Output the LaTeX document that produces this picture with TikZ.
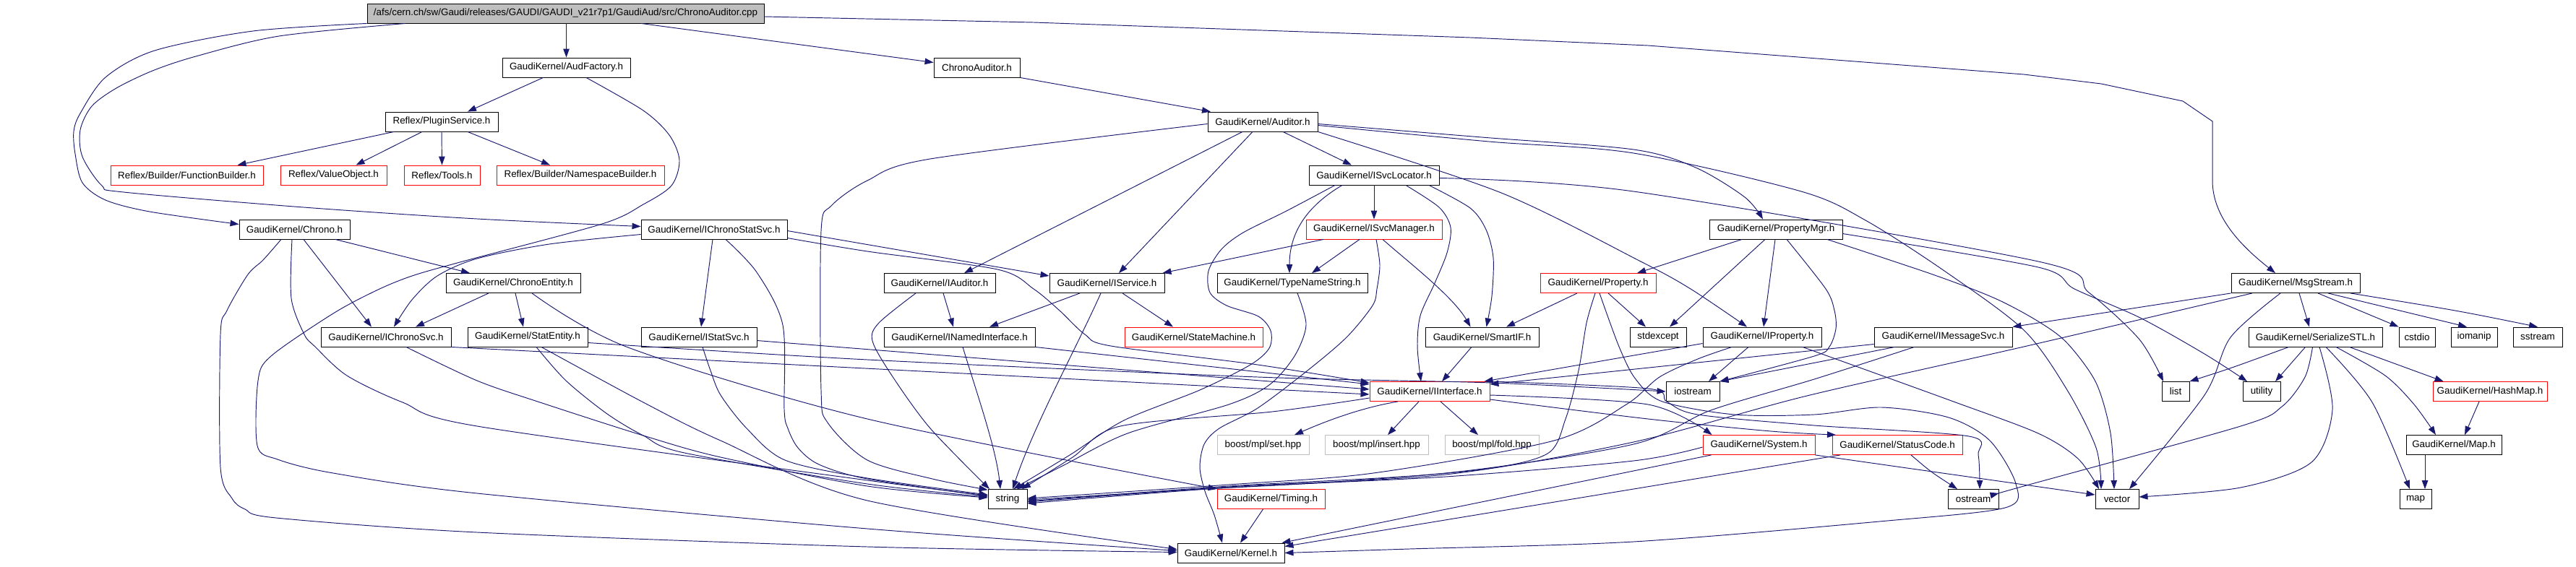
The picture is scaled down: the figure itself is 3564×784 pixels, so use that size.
\documentclass[tikz,border=0pt]{standalone}
\usepackage{fontspec}
\setmainfont{Liberation Sans}
\usetikzlibrary{arrows.meta}
\definecolor{edgec}{HTML}{191970}
\definecolor{grayb}{HTML}{BFBFBF}
\tikzset{
  nd/.style={draw=black, line width=0.9pt, inner sep=0pt, minimum height=27pt, font=\fontsize{13.4}{15}\selectfont, text=black},
  rnd/.style={nd, draw=red},
  gnd/.style={nd, draw=grayb},
  rootnd/.style={nd, fill=grayb},
  edg/.style={draw=edgec, line width=0.95pt, -{Triangle[length=12pt,width=8.5pt]}},
}
\begin{document}
\begin{tikzpicture}[x=1pt,y=-1pt]
\useasboundingbox (0,0) rectangle (3564,784);
% ---------- nodes ----------
\node[rootnd, minimum width=549pt] (root) at (782.5,18.5) {/afs/cern.ch/sw/Gaudi/releases/GAUDI/GAUDI\_v21r7p1/GaudiAud/src/ChronoAuditor.cpp};
\node[nd, minimum width=177pt] (audf) at (783.5,93.5) {GaudiKernel/AudFactory.h};
\node[nd, minimum width=119pt] (chaud) at (1351.5,93.5) {ChronoAuditor.h};
\node[nd, minimum width=156pt] (plug) at (611,168.5) {Reflex/PluginService.h};
\node[nd, minimum width=152pt] (auditor) at (1747,168.5) {GaudiKernel/Auditor.h};
\node[rnd, minimum width=211pt] (fb) at (258.5,242.5) {Reflex/Builder/FunctionBuilder.h};
\node[rnd, minimum width=147pt] (vo) at (461.5,242.5) {Reflex/ValueObject.h};
\node[rnd, minimum width=105pt] (tools) at (611.5,242.5) {Reflex/Tools.h};
\node[rnd, minimum width=232pt] (nsb) at (803,242.5) {Reflex/Builder/NamespaceBuilder.h};
\node[nd, minimum width=180pt] (svcloc) at (1901,242.5) {GaudiKernel/ISvcLocator.h};
\node[nd, minimum width=153pt] (chrono) at (407.5,317.5) {GaudiKernel/Chrono.h};
\node[nd, minimum width=202pt] (icss) at (988,317.5) {GaudiKernel/IChronoStatSvc.h};
\node[rnd, minimum width=188pt] (svcmgr) at (1901,317.5) {GaudiKernel/ISvcManager.h};
\node[nd, minimum width=184pt] (propmgr) at (2457,317.5) {GaudiKernel/PropertyMgr.h};
\node[nd, minimum width=186pt] (centity) at (710,392) {GaudiKernel/ChronoEntity.h};
\node[nd, minimum width=154pt] (iauditor) at (1300,392) {GaudiKernel/IAuditor.h};
\node[nd, minimum width=159pt] (iservice) at (1531.5,392) {GaudiKernel/IService.h};
\node[nd, minimum width=208pt] (tns) at (1788,392) {GaudiKernel/TypeNameString.h};
\node[rnd, minimum width=160pt] (property) at (2211,392) {GaudiKernel/Property.h};
\node[nd, minimum width=178pt] (msgstream) at (3176,392) {GaudiKernel/MsgStream.h};
\node[nd, minimum width=180pt] (ichronosvc) at (534,466.5) {GaudiKernel/IChronoSvc.h};
\node[nd, minimum width=166pt] (statentity) at (730,466.5) {GaudiKernel/StatEntity.h};
\node[nd, minimum width=160pt] (istatsvc) at (967,466.5) {GaudiKernel/IStatSvc.h};
\node[nd, minimum width=209pt] (inamed) at (1327.5,466.5) {GaudiKernel/INamedInterface.h};
\node[rnd, minimum width=191pt] (statemachine) at (1651.5,466.5) {GaudiKernel/StateMachine.h};
\node[nd, minimum width=157pt] (smartif) at (2050.5,466.5) {GaudiKernel/SmartIF.h};
\node[nd, minimum width=78pt] (stdexcept) at (2294,466.5) {stdexcept};
\node[nd, minimum width=164pt] (iproperty) at (2438,466.5) {GaudiKernel/IProperty.h};
\node[nd, minimum width=191pt] (imsgsvc) at (2688.5,466.5) {GaudiKernel/IMessageSvc.h};
\node[nd, minimum width=185pt] (serstl) at (3203.5,466.5) {GaudiKernel/SerializeSTL.h};
\node[nd, minimum width=50pt] (cstdio) at (3344,466.5) {cstdio};
\node[nd, minimum width=64pt] (iomanip) at (3423,466.5) {iomanip};
\node[nd, minimum width=68pt] (sstream) at (3511,466.5) {sstream};
\node[rnd, minimum width=166pt] (iinterface) at (1978,542) {GaudiKernel/IInterface.h};
\node[nd, minimum width=74pt] (iostream) at (2342,542) {iostream};
\node[nd, minimum width=38pt] (list) at (3010,542) {list};
\node[nd, minimum width=52pt] (utility) at (3129,542) {utility};
\node[rnd, minimum width=158pt] (hashmap) at (3445,542) {GaudiKernel/HashMap.h};
\node[gnd, minimum width=127pt] (bset) at (1747.5,616) {boost/mpl/set.hpp};
\node[gnd, minimum width=143pt] (binsert) at (1904.5,616) {boost/mpl/insert.hpp};
\node[gnd, minimum width=130pt] (bfold) at (2064,616) {boost/mpl/fold.hpp};
\node[rnd, minimum width=155pt] (system) at (2433.5,616) {GaudiKernel/System.h};
\node[rnd, minimum width=180pt] (statuscode) at (2625,616) {GaudiKernel/StatusCode.h};
\node[nd, minimum width=132pt] (gmap) at (3395,616) {GaudiKernel/Map.h};
\node[nd, minimum width=54pt] (string) at (1394,691) {string};
\node[rnd, minimum width=149pt] (timing) at (1758.5,691) {GaudiKernel/Timing.h};
\node[nd, minimum width=70pt] (ostream) at (2730,691) {ostream};
\node[nd, minimum width=60pt] (vector) at (2929,691) {vector};
\node[nd, minimum width=44pt] (map) at (3342,691) {map};
\node[nd, minimum width=148pt] (kernel) at (1703,765.5) {GaudiKernel/Kernel.h};
% ---------- edges ----------
% root
\draw[edg] ([xshift=1pt]root.south) -- (audf.north);
\draw[edg] ([xshift=104.5pt]root.south) -- ([yshift=7pt]chaud.west);
\draw[edg] ([yshift=-4.5pt]root.east) -- (1430,31) -- (2034,52) -- (2280,63) -- (2800,103) -- (2907,116) -- (3020,140) -- (3061,168) -- (3061,250) .. controls (3061,300) and (3100,340) .. ([xshift=-28pt]msgstream.north);
\draw[edg] plot[smooth] coordinates {(root.south west) (350,43) (214,70) (146,107) (111,157) (102,182) (104,213) (114,253) (146,277) (207,293) ([yshift=7pt]chrono.west)};
\draw[edg] plot[smooth] coordinates {([xshift=-221.5pt]root.south) (386,50) (271,78) (211,98) (161,122) (127,147) (111,180) (114,217) (141,257) (171,266) (420,287) (660,303) ([yshift=4pt]icss.west)};
% audfactory
\draw[edg] ([xshift=-32pt]audf.south) -- ([xshift=36pt]plug.north);
\draw[edg] plot[smooth] coordinates {([xshift=27.5pt]audf.south) (890,153) (926,187) (940,222) (929,257) (890,283) (833,310) (640,362) (570,382) (521,402) (461,434) (375,493) (357,527) (356,617) (384,636) (461,655) (660,683) (1200,732) ([yshift=3pt]kernel.west)};
% plugin service
\draw[edg] ([xshift=-66pt]plug.south) -- ([xshift=70pt]fb.north);
\draw[edg] ([xshift=-27pt]plug.south) -- ([xshift=31pt]vo.north);
\draw[edg] (plug.south) -- (tools.north);
\draw[edg] ([xshift=36pt]plug.south) -- ([xshift=-42pt]nsb.north);
% chronoauditor.h
\draw[edg] (chaud.south east) -- ([xshift=-72pt]auditor.north);
% auditor
\draw[edg] ([xshift=-28pt]auditor.south) -- ([xshift=34pt]iauditor.north);
\draw[edg] ([xshift=-14pt]auditor.south) -- ([xshift=16.5pt]iservice.north);
\draw[edg] ([xshift=28pt]auditor.south) -- ([xshift=-31pt]svcloc.north);
\draw[edg] plot[smooth] coordinates {([yshift=-3pt]auditor.east) (2050,190) (2260,207) (2346,232) (2414,273) ([xshift=-18pt]propmgr.north)};
\draw[edg] plot[smooth] coordinates {([yshift=-5pt]auditor.east) (2060,196) (2260,212) (2492,265) (2581,305) (2690,375) (2800,457) (2860,540) (2900,620) ([xshift=-22pt]vector.north)};
\draw[edg] plot[smooth] coordinates {(auditor.south east) (2077,267) (2270,362) (2339,400) ([xshift=-21pt]iproperty.north)};
\draw[edg] plot[smooth] coordinates {([yshift=-3pt]auditor.west) (1287,220) (1200,250) (1150,285) (1136,320) (1136,540) (1145,585) (1200,637) (1290,663) (string.155)};
% isvclocator
\draw[edg] (svcloc.south) -- (svcmgr.north);
\draw[edg] ([xshift=-44pt]svcloc.south) .. controls (1800,290) and (1784,330) .. ([xshift=-4pt]tns.north);
\draw[edg] plot[smooth] coordinates {([xshift=-54pt]svcloc.south) (1780,292) (1720,322) (1690,345) (1672,375) (1674,405) (1697,423) (1741,438) (1758,458) (1756,482) (1730,505) (1660,540) (1555,582) (1480,630) ([xshift=8pt]string.north)};
\draw[edg] plot[smooth] coordinates {([xshift=44pt]svcloc.south) (1991,287) (2007,315) (2002,350) (1985,392) (1965,437) (1961,480) ([xshift=-12pt]iinterface.north)};
\draw[edg] plot[smooth] coordinates {([xshift=76pt]svcloc.south) (2034,288) (2056,318) (2066,357) (2064,410) ([xshift=6pt]smartif.north)};
\draw[edg] plot[smooth] coordinates {([yshift=-4pt]svcloc.east) (2260,265) (2820,362) (2890,405) (2960,470) ([xshift=-17pt]list.north)};
% isvcmanager
\draw[edg] ([xshift=-70pt]svcmgr.south) -- ([xshift=-3pt]iservice.north east);
\draw[edg] ([xshift=-20pt]svcmgr.south) -- ([xshift=27pt]tns.north);
\draw[edg] ([xshift=12pt]svcmgr.south) .. controls (1945,360) and (2010,410) .. ([xshift=-16pt]smartif.north);
\draw[edg] plot[smooth] coordinates {([xshift=3pt]svcmgr.south) (1909,367) (1905,400) (1899,423) (1863,467) (1809,513) (1740,565) (1687,593) (1666,615) (1660,647) (1667,680) (1680,713) ([xshift=-12pt]kernel.north)};
% iservice
\draw[edg] ([xshift=-37.5pt]iservice.south) -- ([xshift=41.5pt]inamed.north);
\draw[edg] ([xshift=-8.5pt]iservice.south) .. controls (1490,480) and (1430,590) .. ([xshift=7pt]string.north);
\draw[edg] ([xshift=21.5pt]iservice.south) -- ([xshift=-28.5pt]statemachine.north);
% iauditor
\draw[edg] ([xshift=5pt]iauditor.south) -- ([xshift=-8.5pt]inamed.north);
\draw[edg] plot[smooth] coordinates {([xshift=-33pt]iauditor.south) (1216,447) (1207,472) (1234,520) (1287,593) ([xshift=-25pt]string.north)};
% inamedinterface
\draw[edg] ([xshift=4.5pt]inamed.south) .. controls (1350,540) and (1378,620) .. ([xshift=-10pt]string.north);
\draw[edg] (inamed.south east) -- ([yshift=10pt]iinterface.west);
% typenamestring
\draw[edg] plot[smooth] coordinates {([xshift=7pt]tns.south) (1807,450) (1791,493) (1756,533) (1700,560) (1560,600) (1470,645) ([xshift=13pt]string.north)};
% smartif
\draw[edg] ([xshift=-14.5pt]smartif.south) -- ([xshift=17pt]iinterface.north);
% iinterface
\draw[edg] ([xshift=-44pt]iinterface.south) .. controls (1880,565) and (1830,585) .. ([xshift=43.5pt]bset.north);
\draw[edg] ([xshift=-15pt]iinterface.south) -- ([xshift=15.5pt]binsert.north);
\draw[edg] ([xshift=15pt]iinterface.south) -- ([xshift=-19pt]bfold.north);
\draw[edg] plot[smooth] coordinates {([yshift=-5pt]iinterface.east) (2280,560) ([xshift=-65pt]system.north)};
\draw[edg] plot[smooth] coordinates {([yshift=-11pt]iinterface.east) (2280,580) (2450,597) ([xshift=-85pt]statuscode.north)};
\draw[edg] plot[smooth] coordinates {(iinterface.north east) (2280,538) (2306,556) (2349,574) (2510,589) (2724,604) (2737,630) ([xshift=9pt]ostream.north)};
\draw[edg] plot[smooth] coordinates {([yshift=-9pt]iinterface.west) (1760,570) (1550,590) (1484,633) ([xshift=20pt]string.north)};
% chrono
\draw[edg] plot[smooth] coordinates {([xshift=-3.5pt]chrono.south) (403,413) (421,463) (436,480) (480,520) (557,557) (660,590) (1200,665) ([yshift=5pt]string.west)};
\draw[edg] ([xshift=12.5pt]chrono.south) -- ([xshift=-20pt]ichronosvc.north);
\draw[edg] ([xshift=56.5pt]chrono.south) -- ([xshift=-60pt]centity.north);
\draw[edg] plot[smooth] coordinates {([xshift=-18.5pt]chrono.south) (364,360) (343,380) (314,430) (305,463) (305,647) (321,690) (339,705) (382,717) (660,737) (1200,757) ([yshift=1pt]kernel.west)};
% ichronostatsvc
\draw[edg] plot[smooth] coordinates {([yshift=-7pt]icss.west) (760,338) (660,358) (605,382) (570,415) ([xshift=11pt]ichronosvc.north)};
\draw[edg] ([xshift=-2pt]icss.south) -- ([xshift=3pt]istatsvc.north);
\draw[edg] plot[smooth] coordinates {([xshift=16pt]icss.south) (1047,377) (1083,450) (1085,567) (1090,593) (1104,620) (1133,643) (1200,663) ([yshift=4pt]string.west)};
\draw[edg] ([yshift=-2pt]icss.east) -- ([yshift=10pt]iservice.west);
\draw[edg] plot[smooth] coordinates {([yshift=-12pt]icss.east) (1200,348) (1380,373) (1430,400) (1466,430) (1501,463) (1537,479) (1740,505) ([yshift=12pt]iinterface.west)};
% chronoentity
\draw[edg] ([xshift=-34pt]centity.south) -- ([xshift=41pt]ichronosvc.north);
\draw[edg] ([xshift=3pt]centity.south) -- ([xshift=-6pt]statentity.north);
\draw[edg] plot[smooth] coordinates {([xshift=26pt]centity.south) (869,481) (1200,580) (timing.north west)};
% ichronosvc
\draw[edg] plot[smooth] coordinates {([xshift=28pt]ichronosvc.south) (660,527) (747,557) (890,603) (997,633) (1200,673) ([yshift=2pt]string.west)};
\draw[edg] (ichronosvc.south east) -- ([yshift=-4pt]iinterface.west);
% statentity
\draw[edg] plot[smooth] coordinates {([xshift=12pt]statentity.south) (783,527) (840,573) (890,603) (947,627) (1200,670) ([yshift=3pt]string.west)};
\draw[edg] plot[smooth] coordinates {([xshift=19pt]statentity.south) (890,557) (997,610) (1200,693) ([yshift=5pt]kernel.west)};
\draw[edg] plot[smooth] coordinates {([yshift=-8pt]statentity.east) (1200,498) (1740,522) (2063,530) (iostream.west)};
% istatsvc
\draw[edg] plot[smooth] coordinates {([xshift=5pt]istatsvc.south) (983,513) (997,547) (1033,593) (1086,637) (1200,662) ([yshift=6pt]string.west)};
\draw[edg] ([yshift=-5pt]istatsvc.east) -- ([yshift=3pt]iinterface.west);
% property
\draw[edg] ([xshift=-29pt]property.south) -- ([xshift=33.5pt]smartif.north);
\draw[edg] ([xshift=14pt]property.south) -- ([xshift=-17pt]stdexcept.north);
\draw[edg] plot[smooth] coordinates {([xshift=-4pt]property.south) (2195,447) (2184,513) (2166,580) (2141,628) (2050,650) (1850,667) (1650,678) ([yshift=-1pt]string.east)};
\draw[edg] plot[smooth] coordinates {([xshift=2pt]property.south) (2240,480) (2263,525) (2300,556) (2400,574) (2510,574) (2603,564) (2696,578) (2753,610) (2789,670) (2774,703) (2600,722) (2260,750) (1950,760) (kernel.east)};
% propertymgr
\draw[edg] ([xshift=-47pt]propmgr.south) -- ([xshift=54pt]property.north);
\draw[edg] ([xshift=-15pt]propmgr.south) -- ([xshift=16pt]stdexcept.north);
\draw[edg] ([xshift=-1pt]propmgr.south) -- ([xshift=2pt]iproperty.north);
\draw[edg] plot[smooth] coordinates {([xshift=15pt]propmgr.south) (2526,400) (2538,430) (2540,455) (2531,480) (2510,493) (iostream.north east)};
\draw[edg] plot[smooth] coordinates {([xshift=71pt]propmgr.south) (2674,380) (2760,413) (2820,445) (2860,475) (2900,530) (2920,600) ([xshift=-4pt]vector.north)};
\draw[edg] plot[smooth] coordinates {([yshift=-6pt]propmgr.east) (2820,370) (2870,400) (2961,440) (3050,490) ([xshift=-20pt]utility.north)};
% iproperty
\draw[edg] ([yshift=-9pt]iproperty.west) -- ([xshift=-8pt]iinterface.north east);
\draw[edg] ([xshift=-19pt]iproperty.south) -- ([xshift=22pt]iostream.north);
\draw[edg] plot[smooth] coordinates {([xshift=-42pt]iproperty.south) (2349,497) (2296,522) (2250,560) (2150,610) (1900,655) (1700,671) ([yshift=1pt]string.east)};
\draw[edg] plot[smooth] coordinates {([xshift=56pt]iproperty.south) (2700,555) (2820,600) (2875,635) ([xshift=-25pt]vector.north)};
% imessagesvc
\draw[edg] ([yshift=-10pt]imsgsvc.west) -- ([yshift=10pt]iinterface.east);
\draw[edg] ([xshift=-67pt]imsgsvc.south) -- (iostream.north east);
\draw[edg] plot[smooth] coordinates {([xshift=-40pt]imsgsvc.south) (2510,525) (2367,568) (2260,615) (2000,655) (1700,673) ([yshift=-3pt]string.east)};
% msgstream
\draw[edg] (msgstream.south west) -- (imsgsvc.north east);
\draw[edg] plot[smooth] coordinates {([xshift=-60pt]msgstream.south) (2800,480) (2500,548) (2260,612) (2000,657) (1700,674) ([yshift=-4pt]string.east)};
\draw[edg] ([xshift=5pt]msgstream.south) -- ([xshift=-8.5pt]serstl.north);
\draw[edg] ([xshift=31pt]msgstream.south) -- (cstdio.north west);
\draw[edg] ([xshift=45pt]msgstream.south) -- ([xshift=-10pt]iomanip.north);
\draw[edg] ([xshift=76pt]msgstream.south) .. controls (3400,430) .. (sstream.north);
\draw[edg] plot[smooth] coordinates {([xshift=-21pt]msgstream.south) (3086,467) (3050,547) ([xshift=17pt]vector.north)};
% serializestl
\draw[edg] ([xshift=-37pt]serstl.south) .. controls (3086,510) .. (list.north east);
\draw[edg] ([xshift=-14pt]serstl.south) -- ([xshift=19pt]utility.north);
\draw[edg] plot[smooth] coordinates {([xshift=-4pt]serstl.south) (3189,522) (3157,563) (3100,590) (2800,673) ([yshift=8pt]ostream.east)};
\draw[edg] plot[smooth] coordinates {([xshift=5.5pt]serstl.south) (3227,567) (3198,640) (3100,675) ([yshift=3pt]vector.east)};
\draw[edg] plot[smooth] coordinates {([xshift=14.5pt]serstl.south) (3282,557) ([xshift=-8pt]map.north)};
\draw[edg] plot[smooth] coordinates {([xshift=28.5pt]serstl.south) (3300,520) (3340,560) ([xshift=-25pt]gmap.north)};
\draw[edg] ([xshift=47pt]serstl.south) -- ([xshift=15pt]hashmap.north west);
% hashmap, map
\draw[edg] ([xshift=-15pt]hashmap.south) -- ([xshift=15pt]gmap.north);
\draw[edg] ([xshift=-40pt]gmap.south) -- ([xshift=13pt]map.north);
% system
\draw[edg] plot[smooth] coordinates {([yshift=-3pt]system.west) (2260,638) (2000,660) (1700,675) ([yshift=-6pt]string.east)};
\draw[edg] ([xshift=-66pt]system.south) -- ([xshift=-4pt]kernel.north east);
\draw[edg] (system.south east) -- ([yshift=6pt]vector.west);
% statuscode
\draw[edg] ([xshift=19pt]statuscode.south) .. controls (2671,653) .. ([xshift=-22pt]ostream.north);
\draw[edg] ([xshift=-79pt]statuscode.south) -- ([yshift=9pt]kernel.east);
% timing
\draw[edg] ([xshift=-11pt]timing.south) -- ([xshift=13pt]kernel.north);
\end{tikzpicture}
\end{document}
